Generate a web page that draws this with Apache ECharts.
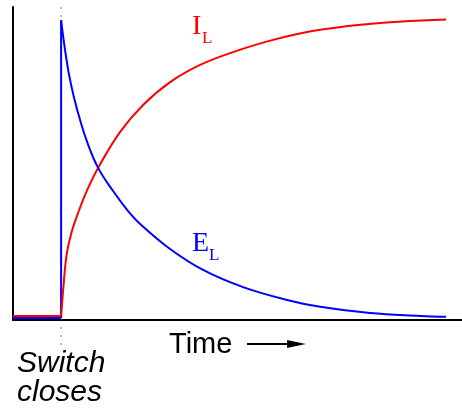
<!DOCTYPE html>
<html>
<head>
<meta charset="utf-8">
<script src="https://cdn.jsdelivr.net/npm/echarts@6/dist/echarts.min.js"></script>
<style>
  html, body { margin: 0; padding: 0; background: #fff; }
  #chart { width: 462px; height: 413px; }
</style>
</head>
<body>
<div id="chart"></div>
<script>
// time axis: switch closes at t = 0, axis spans -12 .. 100
// values are in percent of the full axis height
var preT = [-12, 0];
var preI = [1.3, 1.3];
var preE = [0.6, 0.6];

var riseT = [0, 0.57, 1.37, 2.49, 4.24, 6.49, 9.23, 14.72, 20.45, 27.19, 34.67, 42.9, 52.88, 64.6, 79.57, 96.03];
var riseI = [1.3, 10.5, 20.8, 27.5, 34.2, 41.5, 48.6, 60.1, 68.7, 76.0, 81.5, 85.6, 89.5, 92.7, 94.9, 96.0];

var decayT = [0, 0.5, 1.25, 1.99, 3.24, 4.74, 6.49, 9.23, 12.97, 16.71, 19.71, 27.19, 35.42, 45.4, 56.37, 64.6, 77.08, 89.55, 96.03];
var decayE = [95.8, 90.7, 84.0, 78.3, 70.9, 63.9, 56.9, 48.6, 41.2, 34.8, 30.7, 22.7, 16.0, 10.5, 6.4, 4.2, 2.2, 1.3, 1.0];

function pairs(xs, ys) {
  return xs.map(function(x, i) { return [x, ys[i]]; });
}

var red = '#ff0000';
var blue = '#0000ff';

var chart = echarts.init(document.getElementById('chart'), null, { renderer: 'canvas' });
chart.setOption({
  animation: false,
  grid: { left: 13, right: 0, top: 7, bottom: 93, containLabel: false },
  xAxis: {
    type: 'value', min: -12, max: 100,
    axisLine: { show: true, onZero: false, lineStyle: { color: '#000', width: 2 } },
    axisTick: { show: false }, axisLabel: { show: false }, splitLine: { show: false }
  },
  yAxis: {
    type: 'value', min: 0, max: 100,
    axisLine: { show: true, onZero: false, lineStyle: { color: '#000', width: 2 } },
    axisTick: { show: false }, axisLabel: { show: false }, splitLine: { show: false }
  },
  series: [
    { type: 'line', data: pairs(preT, preE), showSymbol: false, lineStyle: { color: blue, width: 2 } },
    { type: 'line', data: [[0, preE[1]], [0, decayE[0]]], showSymbol: false, lineStyle: { color: blue, width: 2 } },
    { type: 'line', data: pairs(preT, preI), showSymbol: false, lineStyle: { color: red, width: 2 } },
    { type: 'line', data: pairs(riseT, riseI), smooth: 0.4, showSymbol: false, lineStyle: { color: red, width: 2 } },
    { type: 'line', data: pairs(decayT, decayE), smooth: 0.4, showSymbol: false, lineStyle: { color: blue, width: 2 } }
  ]
});

var sx = chart.convertToPixel({ xAxisIndex: 0 }, 0);
var sans = 'Liberation Sans, Arial, sans-serif';
var serif = 'Liberation Serif, Times New Roman, serif';

chart.setOption({
  graphic: [
    // dotted marker where the switch closes
    { type: 'line', shape: { x1: sx, y1: 7, x2: sx, y2: 346 }, z: 0,
      style: { stroke: '#999', lineWidth: 1.3, lineDash: [2, 6] } },
    { type: 'text', left: 169, top: 330, style: { text: 'Time', font: '29px ' + sans, fill: '#000' } },
    { type: 'line', shape: { x1: 247, y1: 344, x2: 290, y2: 344 }, style: { stroke: '#000', lineWidth: 2 } },
    { type: 'polygon', shape: { points: [[287, 340], [306, 344], [287, 348]] }, style: { fill: '#000' } },
    { type: 'text', left: 17, top: 349,
      style: { text: 'Switch\ncloses', font: 'italic 30px ' + sans, lineHeight: 29, fill: '#000' } },
    { type: 'text', left: 192, top: 13, style: { text: 'I', font: '28px ' + serif, fill: red } },
    { type: 'text', left: 202, top: 30, style: { text: 'L', font: '17px ' + serif, fill: red } },
    { type: 'text', left: 192, top: 230, style: { text: 'E', font: '28px ' + serif, fill: blue } },
    { type: 'text', left: 209, top: 247, style: { text: 'L', font: '17px ' + serif, fill: blue } }
  ]
});
</script>
</body>
</html>
